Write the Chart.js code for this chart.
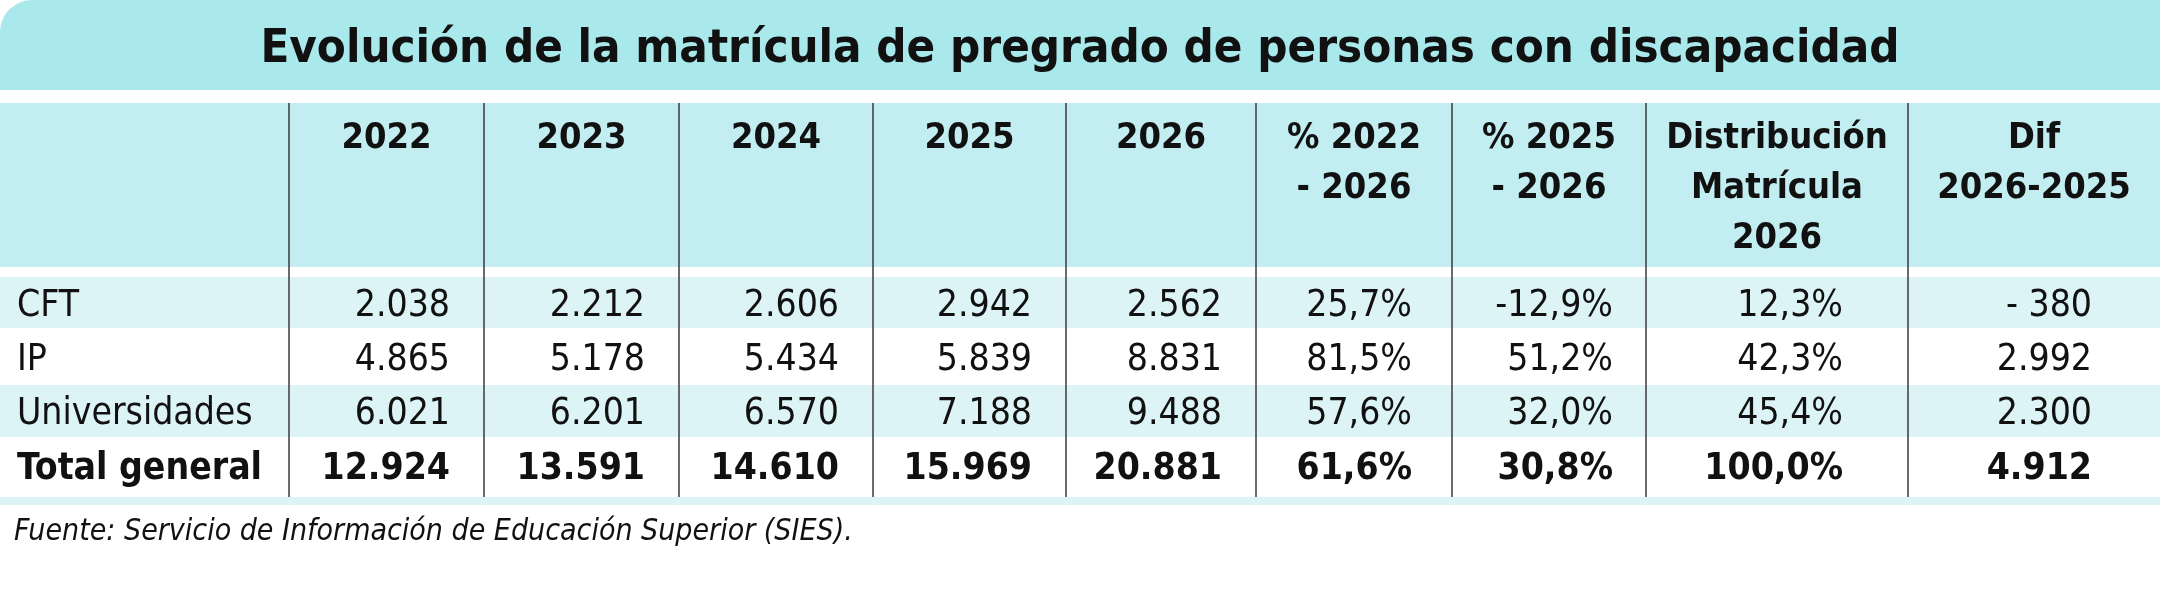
<!DOCTYPE html>
<html>
<head>
<meta charset="utf-8">
<script src="https://cdn.jsdelivr.net/npm/chart.js@4.4.1/dist/chart.umd.min.js"></script>
<style>
  html, body { margin: 0; padding: 0; background: #fff; }
  canvas { display: block; }
</style>
</head>
<body>
<canvas id="myChart" width="2160" height="601"></canvas>
<script>
const title = 'Evolución de la matrícula de pregrado de personas con discapacidad';
const source = 'Fuente: Servicio de Información de Educación Superior (SIES).';
const headers = [[''], ['2022'], ['2023'], ['2024'], ['2025'], ['2026'],
  ['% 2022', '- 2026'], ['% 2025', '- 2026'], ['Distribución', 'Matrícula', '2026'], ['Dif', '2026-2025']];
const categories = ['CFT', 'IP', 'Universidades', 'Total general'];
const cftValues = ['2.038', '2.212', '2.606', '2.942', '2.562', '25,7%', '-12,9%', '12,3%', '- 380'];
const ipValues = ['4.865', '5.178', '5.434', '5.839', '8.831', '81,5%', '51,2%', '42,3%', '2.992'];
const uniValues = ['6.021', '6.201', '6.570', '7.188', '9.488', '57,6%', '32,0%', '45,4%', '2.300'];
const totalValues = ['12.924', '13.591', '14.610', '15.969', '20.881', '61,6%', '30,8%', '100,0%', '4.912'];
const rows = [cftValues, ipValues, uniValues, totalValues];

// layout (pixels in scale units)
const colEdges = [0, 289, 484, 679, 873, 1066, 1256, 1452, 1646, 1908, 2160];
const colPad = [17, 34, 34, 34, 34, 34, 40, 33, 65, 68];
const rowEdges = [277, 328, 385, 437, 497];
const rowBase = [316, 370, 424, 479];
const FONT = '"DejaVu Sans Condensed", "Liberation Sans Narrow", sans-serif';

const tablePlugin = {
  id: 'table',
  afterDraw(chart) {
    const ctx = chart.ctx;
    const x = chart.scales.x, y = chart.scales.y;
    const px = v => x.getPixelForValue(v);
    const py = v => y.getPixelForValue(v);
    ctx.save();

    // title band with rounded top-left corner
    ctx.fillStyle = '#a9e9ec';
    ctx.beginPath();
    ctx.roundRect(px(0), py(0), px(2160) - px(0), py(90) - py(0), [32, 0, 0, 0]);
    ctx.fill();

    // header band
    ctx.fillStyle = '#c3eef1';
    ctx.fillRect(px(0), py(103), px(2160) - px(0), py(267) - py(103));

    // striped rows
    ctx.fillStyle = '#ddf4f6';
    [0, 2].forEach(i => {
      ctx.fillRect(px(0), py(rowEdges[i]), px(2160) - px(0), py(rowEdges[i + 1]) - py(rowEdges[i]));
    });
    ctx.fillRect(px(0), py(497), px(2160) - px(0), py(505) - py(497));

    // vertical rules
    ctx.strokeStyle = '#3a3a3a';
    ctx.lineWidth = 1.5;
    for (let c = 1; c < colEdges.length - 1; c++) {
      ctx.beginPath();
      ctx.moveTo(px(colEdges[c]), py(103));
      ctx.lineTo(px(colEdges[c]), py(497));
      ctx.stroke();
    }

    ctx.fillStyle = '#111';
    ctx.textBaseline = 'alphabetic';

    // title
    ctx.font = 'bold 47px ' + FONT;
    ctx.textAlign = 'center';
    ctx.fillText(title, px(1080), py(62));

    // headers
    ctx.font = 'bold 36px ' + FONT;
    headers.forEach((lines, c) => {
      const cx = (colEdges[c] + colEdges[c + 1]) / 2;
      lines.forEach((t, l) => ctx.fillText(t, px(cx), py(148 + l * 50)));
    });

    // body
    categories.forEach((cat, r) => {
      const bold = r === categories.length - 1;
      ctx.font = (bold ? 'bold ' : '') + '37px ' + FONT;
      ctx.textAlign = 'left';
      ctx.fillText(cat, px(colPad[0]), py(rowBase[r]));
      ctx.textAlign = 'right';
      rows[r].forEach((v, i) => {
        ctx.fillText(v, px(colEdges[i + 2] - colPad[i + 1]), py(rowBase[r]));
      });
    });

    // source
    ctx.font = 'italic 30px ' + FONT;
    ctx.textAlign = 'left';
    ctx.fillText(source, px(14), py(540));
    ctx.restore();
  }
};

new Chart(document.getElementById('myChart').getContext('2d'), {
  type: 'scatter',
  data: { datasets: [] },
  options: {
    responsive: false,
    animation: false,
    devicePixelRatio: 1,
    layout: { padding: 0 },
    plugins: { legend: { display: false }, tooltip: { enabled: false } },
    scales: {
      x: { type: 'linear', min: 0, max: 2160, display: false },
      y: { type: 'linear', min: 0, max: 601, reverse: true, display: false }
    }
  },
  plugins: [tablePlugin]
});
</script>
</body>
</html>
